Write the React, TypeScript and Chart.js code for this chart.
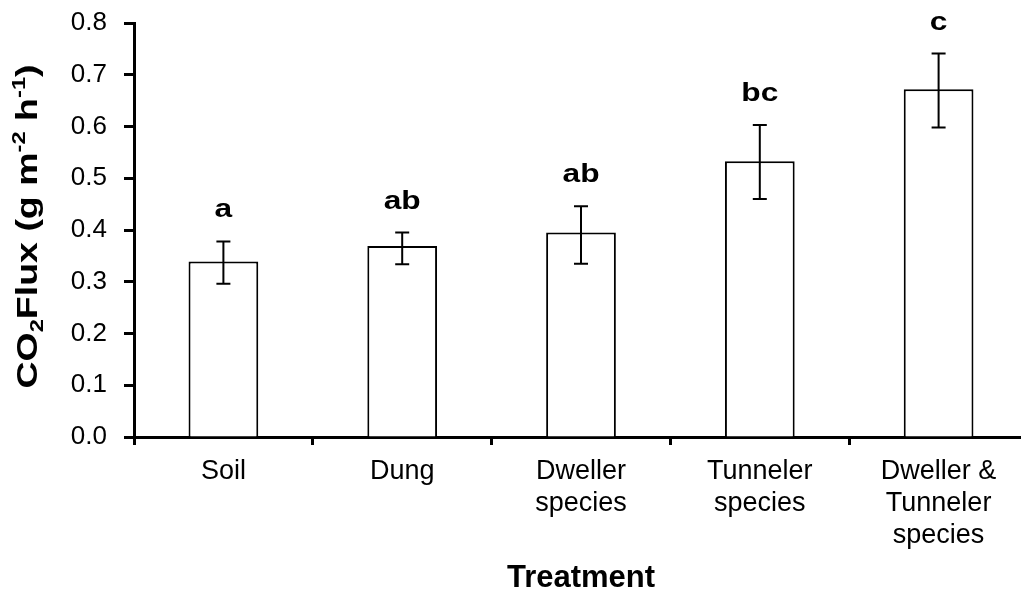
import React, { useEffect, useRef } from "react";
import { Chart, registerables } from "chart.js";

Chart.register(...registerables);

const FONT = "'Liberation Sans', Arial, Helvetica, sans-serif";

const categories: string[][] = [
  ["Soil"],
  ["Dung"],
  ["Dweller", "species"],
  ["Tunneler", "species"],
  ["Dweller &", "Tunneler", "species"],
];
const meanFlux = [0.339, 0.369, 0.395, 0.533, 0.672];
const errLow = [0.296, 0.334, 0.335, 0.46, 0.598];
const errHigh = [0.378, 0.395, 0.446, 0.603, 0.741];
const groupLetters = ["a", "ab", "ab", "bc", "c"];
const yMin = 0;
const yMax = 0.8;
const yStep = 0.1;
const xTitle = "Treatment";
const yTitleParts: { text: string; kind: "n" | "sub" | "sup" }[] = [
  { text: "CO", kind: "n" },
  { text: "2", kind: "sub" },
  { text: "Flux (g m", kind: "n" },
  { text: "-2", kind: "sup" },
  { text: " h", kind: "n" },
  { text: "-1", kind: "sup" },
  { text: ")", kind: "n" },
];

const errorBarPlugin = {
  id: "errorBarsAndLetters",
  afterDatasetsDraw(chart: any) {
    const ctx = chart.ctx as CanvasRenderingContext2D;
    const meta = chart.getDatasetMeta(0);
    const y = chart.scales.y;
    ctx.save();
    ctx.strokeStyle = "#000";
    ctx.lineWidth = 2;
    meta.data.forEach((bar: any, i: number) => {
      const x = bar.x;
      const yl = y.getPixelForValue(errLow[i]);
      const yh = y.getPixelForValue(errHigh[i]);
      ctx.beginPath();
      ctx.moveTo(x, yl);
      ctx.lineTo(x, yh);
      ctx.moveTo(x - 7, yl);
      ctx.lineTo(x + 7, yl);
      ctx.moveTo(x - 7, yh);
      ctx.lineTo(x + 7, yh);
      ctx.stroke();

      ctx.save();
      ctx.translate(x, yh - 24);
      ctx.scale(1.22, 1);
      ctx.font = `bold 26px ${FONT}`;
      ctx.textAlign = "center";
      ctx.textBaseline = "alphabetic";
      ctx.fillStyle = "#000";
      ctx.fillText(groupLetters[i], 0, 0);
      ctx.restore();
    });
    ctx.restore();
  },
};

const yTitlePlugin = {
  id: "yTitleRich",
  afterDraw(chart: any) {
    const ctx = chart.ctx as CanvasRenderingContext2D;
    const area = chart.chartArea;
    const big = `bold 30px ${FONT}`;
    const small = `bold 19px ${FONT}`;
    ctx.save();
    let total = 0;
    const widths = yTitleParts.map((p) => {
      ctx.font = p.kind === "n" ? big : small;
      const w = ctx.measureText(p.text).width;
      total += w;
      return w;
    });
    const stretch = 1.25;
    ctx.translate(37, (area.top + area.bottom) / 2 - 3.5);
    ctx.rotate(-Math.PI / 2);
    ctx.scale(stretch, 1);
    ctx.fillStyle = "#000";
    ctx.textBaseline = "alphabetic";
    ctx.textAlign = "left";
    let cx = -total / 2;
    yTitleParts.forEach((p, i) => {
      ctx.font = p.kind === "n" ? big : small;
      const dy = p.kind === "sub" ? 6 : p.kind === "sup" ? -12 : 0;
      ctx.fillText(p.text, cx, dy);
      cx += widths[i];
    });
    ctx.restore();
  },
};

export default function App() {
  const canvasRef = useRef<HTMLCanvasElement | null>(null);

  useEffect(() => {
    const canvas = canvasRef.current;
    if (!canvas) return;
    const chart = new Chart(canvas, {
      type: "bar",
      data: {
        labels: categories,
        datasets: [
          {
            data: meanFlux,
            backgroundColor: "#ffffff",
            borderColor: "#000000",
            borderWidth: 2,
            barPercentage: 0.39,
            categoryPercentage: 1,
          },
        ],
      },
      options: {
        responsive: false,
        animation: false,
        layout: { padding: { top: 23, left: 0, right: 0, bottom: 0 } },
        plugins: {
          legend: { display: false },
          tooltip: { enabled: false },
        },
        scales: {
          x: {
            grid: {
              drawOnChartArea: false,
              drawTicks: true,
              tickLength: 8,
              tickWidth: 3,
              tickColor: "#000",
              offset: true,
            },
            border: { display: true, color: "#000", width: 3 },
            ticks: {
              color: "#000",
              font: { family: FONT, size: 27, lineHeight: 1.2 },
              padding: 10,
              maxRotation: 0,
              minRotation: 0,
              autoSkip: false,
            },
            title: {
              display: true,
              text: xTitle,
              color: "#000",
              font: { family: FONT, size: 31, weight: "bold", lineHeight: 1.1 },
              padding: { top: 0, bottom: 0 },
            },
            afterFit(s: any) {
              s.height = 159;
              s.paddingLeft = 0;
              s.paddingRight = 0;
            },
          },
          y: {
            min: yMin,
            max: yMax,
            ticks: {
              stepSize: yStep,
              callback: (v: any) => Number(v).toFixed(1),
              color: "#000",
              font: { family: FONT, size: 26 },
              padding: 17,
            },
            grid: {
              drawOnChartArea: false,
              drawTicks: true,
              tickLength: 10,
              tickWidth: 3,
              tickColor: "#000",
            },
            border: { display: true, color: "#000", width: 3 },
            afterFit(s: any) {
              s.width = 134;
              s.paddingTop = 0;
              s.paddingBottom = 0;
            },
          },
        },
      } as any,
      plugins: [errorBarPlugin, yTitlePlugin],
    });
    return () => chart.destroy();
  }, []);

  return (
    <div
      style={{
        position: "fixed",
        left: 0,
        top: 0,
        width: 1021,
        height: 596,
        overflow: "hidden",
        background: "#fff",
      }}
    >
      <canvas
        ref={canvasRef}
        width={1028}
        height={596}
        style={{ width: 1028, height: 596, display: "block" }}
      />
    </div>
  );
}
